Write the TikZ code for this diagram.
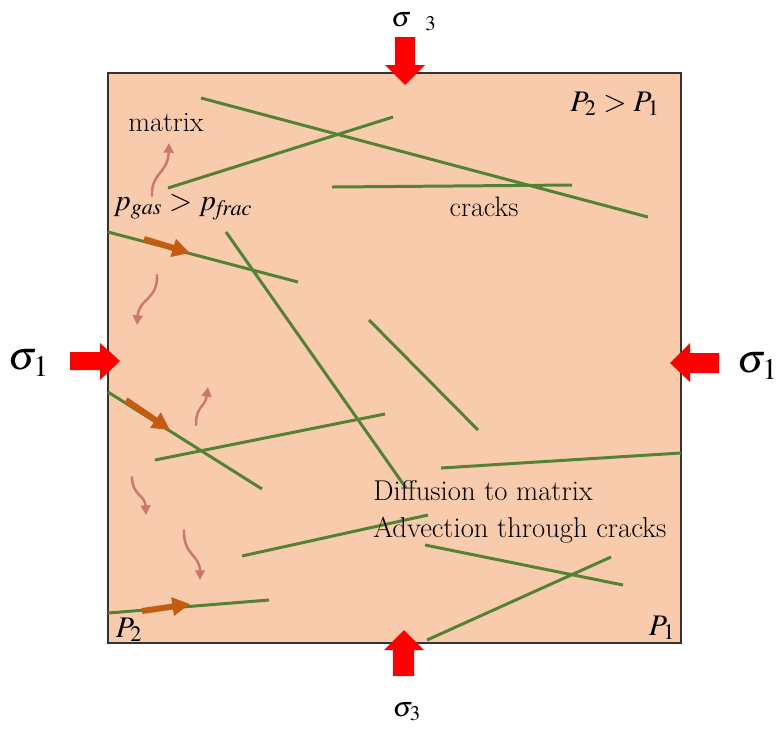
\documentclass[tikz,border=0pt]{standalone}
\usepackage{mathptmx}
\usetikzlibrary{arrows.meta}

\definecolor{rock}{RGB}{247,203,172}
\definecolor{crackgreen}{RGB}{84,130,53}
\definecolor{flowor}{RGB}{197,90,17}
\definecolor{seeppink}{RGB}{205,118,108}

\begin{document}
\begin{tikzpicture}[x=0.02cm, y=-0.02cm,
  crack/.style={crackgreen, line width=1.7pt},
  flow/.style={flowor, line width=3.4pt, -{Triangle[length=10pt, width=10pt]}},
  seep/.style={seeppink, line width=1.4pt, line cap=round, -{Triangle[length=5.5pt, width=5.5pt]}},
  load/.style={fill=red, draw=none},
  lbl/.style={inner sep=0pt, font=\fontsize{16}{19}\selectfont}]
\useasboundingbox (0,0) rectangle (776,731);

% the rock sample
\node[draw=black!80, fill=rock, line width=0.6pt, minimum width=573*0.02cm,
  minimum height=570*0.02cm, inner sep=0pt] (rock) at (394.5,358) {};

% cracks
\foreach \xa/\ya/\xb/\yb in {201/98/648/217, 168/188/393/117, 332/187/572/185,
  108/232/298/282, 226/232/406/488, 369/320/478/430, 108/392/262/489,
  155/460/385/414, 441/468/681/453, 242/556/428/515, 425/545/623/585,
  427/640/611/557, 108/613/269/600}
  \draw[crack] (\xa,\ya) -- (\xb,\yb);

% advection along the cracks
\draw[flow] (144,239) -- (190,253);
\draw[flow] (126,400) -- (170,430);
\draw[flow] (142,611) -- (190,604);

% diffusion into the matrix
\draw[seep] (152,196) .. controls (151,172) and (168,174) .. (169,143);
\draw[seep] (157,275) .. controls (158,300) and (139,298) .. (137,325);
\draw[seep] (196,425) .. controls (196,405) and (205,408) .. (208,387);
\draw[seep] (132,477) .. controls (132,495) and (145,495) .. (146,515);
\draw[seep] (184,530) .. controls (183,555) and (200,555) .. (200,580);

% confining stresses
\fill[load] (395,37) -- (415,37) -- (415,65) -- (425,65) -- (405,85)
  -- (385,65) -- (395,65) -- cycle;
\fill[load] (393,676) -- (414,676) -- (414,650) -- (424,650) -- (404,630)
  -- (384,650) -- (393,650) -- cycle;
\fill[load] (70,352) -- (100,352) -- (100,343) -- (120,361) -- (100,380)
  -- (100,370) -- (70,370) -- cycle;
\fill[load] (719,353) -- (690,353) -- (690,343) -- (670,363) -- (690,382)
  -- (690,373) -- (719,373) -- cycle;

% labels
\node[lbl, font=\fontsize{16}{19}\selectfont] (s3top) at (414,22) {$\sigma_{\ \ 3}$};
\node[lbl, font=\fontsize{16}{19}\selectfont] (s3bot) at (407,712) {$\sigma_3$};
\node[lbl, font=\fontsize{23}{27}\selectfont] (s1left) at (29,363) {$\sigma_1$};
\node[lbl, font=\fontsize{23}{27}\selectfont] (s1right) at (758,366) {$\sigma_1$};
\node[lbl] (matrix) at (166,123) {matrix};
\node[lbl, font=\fontsize{17}{20}\selectfont] (pgas) at (183,207) {$p_{gas} > p_{\mathit{frac}}$};
\node[lbl] (cracks) at (484,207) {cracks};
\node[lbl, font=\fontsize{17}{20}\selectfont] (pp) at (615,104) {$P_2 > P_1$};
\node[lbl, font=\fontsize{16.3}{19}\selectfont, align=left, anchor=west] (diff) at (373,512)
  {Diffusion to matrix\\[2pt]Advection through cracks};
\node[lbl, font=\fontsize{17}{20}\selectfont] (p2) at (129,630) {$P_2$};
\node[lbl, font=\fontsize{17}{20}\selectfont] (p1) at (662,628) {$P_1$};
\end{tikzpicture}
\end{document}
